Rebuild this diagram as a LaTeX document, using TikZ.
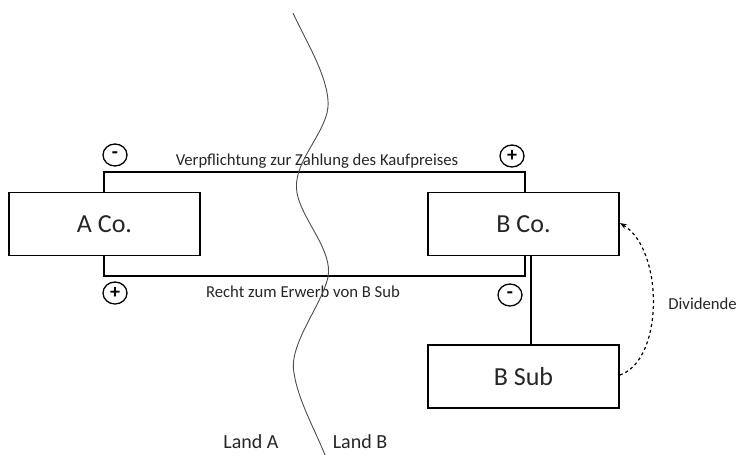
\documentclass[tikz,border=0pt]{standalone}
\usepackage{fontspec}
\setmainfont{Carlito}
\usetikzlibrary{arrows.meta,shapes.geometric}
\begin{document}
\begin{tikzpicture}[x=1pt,y=-1pt,
  box/.style={draw,line width=1.8pt,minimum width=191pt,minimum height=63pt,inner sep=0pt,font=\fontsize{26}{30}\selectfont,text=black!85},
  wire/.style={line width=1.2pt},
  sign/.style={draw,ellipse,line width=1.3pt,minimum width=24pt,minimum height=22pt,inner sep=0pt,font=\fontsize{20}{20}\selectfont\bfseries},
  lbl/.style={font=\fontsize{16.7}{19}\selectfont,text=black!85,inner sep=0pt},
  border/.style={line width=0.9pt,draw=black!70}]
\useasboundingbox (0,0) rectangle (738,455);
\node[box] (aco) at (104.5,224) {A Co.};
\node[box] (bco) at (523.5,224) {B Co.};
\node[box] (bsub) at (523.5,376.5) {B Sub};
\coordinate (tl) at (104,172);
\coordinate (tr) at (525,172);
\coordinate (bl) at (104,276);
\coordinate (br) at (525,276);
\draw[wire] (aco.north -| tl) -- (tl) -- (tr) -- (bco.north -| tr);
\draw[wire] (aco.south -| bl) -- (bl) -- (br) -- (bco.south -| br);
\draw[wire] (bco.south -| 531,0) -- (bsub.north -| 531,0);
\node[sign] (s1) at (115,155) {-};
\node[sign] (s2) at (512,156) {+};
\node[sign] (s3) at (115,293) {+};
\node[sign] (s4) at (510,295) {-};
\node[lbl] (t1) at (317,161) {Verpflichtung zur Zahlung des Kaufpreises};
\node[lbl] (t2) at (303,292) {Recht zum Erwerb von B Sub};
\node[lbl,anchor=east] (div) at (737,304) {Dividende};
\node[lbl,font=\fontsize{20}{22}\selectfont] (la) at (251,442) {Land A};
\node[lbl,font=\fontsize{20}{22}\selectfont] (lb) at (360,442) {Land B};
\draw[line width=1.2pt,dashed,-{Stealth[length=7pt,width=5pt]}] (bsub.east |- 0,375) .. controls (664,360) and (664,250) .. (bco.east |- 0,223);
\draw[border] (293,13) .. controls (305,40) and (334,85) .. (327,113)
  .. controls (320,140) and (292,165) .. (297,193)
  .. controls (302,220) and (333,250) .. (328,277)
  .. controls (322,305) and (288,345) .. (294,373)
  .. controls (298,400) and (315,430) .. (325,455);
\end{tikzpicture}
\end{document}
